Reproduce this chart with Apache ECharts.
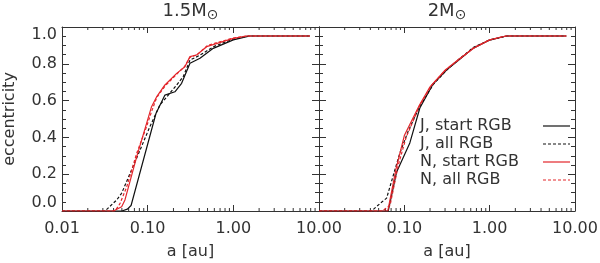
<!DOCTYPE html>
<html><head><meta charset="utf-8">
<script src="https://cdn.jsdelivr.net/npm/echarts@6/dist/echarts.min.js"></script>
<style>html,body{margin:0;padding:0;background:#fff}#c{width:600px;height:263px}</style>
</head><body><div id="c"></div>
<script>
// ---- data ----
const panelTitles = ['1.5M', '2M'];
const sunSymbol = '\u2299';
const xName = 'a [au]';
const yName = 'eccentricity';
const seriesNames = ['J, start RGB', 'J, all RGB', 'N, start RGB', 'N, all RGB'];
const xMinorTicks = [0.02,0.03,0.04,0.05,0.06,0.07,0.08,0.09,0.2,0.3,0.4,0.5,0.6,0.7,0.8,0.9,2,3,4,5,6,7,8,9];

// 1.5 Msun panel
const a15_Jstart = [0.01, 0.05, 0.058, 0.064, 0.125, 0.159, 0.208, 0.249, 0.312, 0.408, 0.583, 1.0, 1.56, 7.8];
const e15_Jstart = [0, 0, 0.01, 0.03, 0.53, 0.63, 0.648, 0.694, 0.803, 0.83, 0.884, 0.93, 0.951, 0.951];
const a15_Jall = [0.01, 0.0318, 0.0435, 0.0496, 0.0813, 0.106, 0.139, 0.174, 0.218, 0.26, 0.312, 0.4, 0.6, 1.0, 1.5, 7.8];
const e15_Jall = [0, 0, 0.06, 0.096, 0.33, 0.458, 0.576, 0.63, 0.685, 0.73, 0.82, 0.845, 0.895, 0.935, 0.951, 0.951];
const a15_Nstart = [0.01, 0.0398, 0.0497, 0.0543, 0.075, 0.111, 0.127, 0.159, 0.218, 0.272, 0.312, 0.372, 0.488, 1.0, 1.43, 7.8];
const e15_Nstart = [0, 0, 0.023, 0.06, 0.3, 0.567, 0.62, 0.685, 0.748, 0.784, 0.839, 0.848, 0.893, 0.938, 0.951, 0.951];
const a15_Nall = [0.01, 0.0416, 0.0475, 0.0568, 0.0744, 0.097, 0.111, 0.127, 0.16, 0.22, 0.27, 0.31, 0.38, 0.5, 0.7, 1.0, 1.45, 7.8];
const e15_Nall = [0, 0, 0.04, 0.13, 0.313, 0.458, 0.54, 0.615, 0.68, 0.745, 0.785, 0.835, 0.85, 0.9, 0.92, 0.94, 0.951, 0.951];

// 2 Msun panel
const a2_Jstart = [0.01, 0.0647, 0.081, 0.116, 0.152, 0.217, 0.312, 0.446, 0.638, 1.0, 1.57, 7.9];
const e2_Jstart = [0, 0, 0.21, 0.37, 0.56, 0.69, 0.766, 0.825, 0.884, 0.929, 0.951, 0.951];
const a2_Jall = [0.01, 0.0413, 0.0517, 0.062, 0.0886, 0.11, 0.15, 0.22, 0.32, 0.45, 0.65, 1.0, 1.6, 7.9];
const e2_Jall = [0, 0, 0.04, 0.07, 0.315, 0.43, 0.565, 0.69, 0.77, 0.83, 0.89, 0.93, 0.951, 0.951];
const a2_Nstart = [0.01, 0.064, 0.08, 0.1, 0.15, 0.2, 0.3, 0.45, 0.65, 1.0, 1.55, 7.9];
const e2_Nstart = [0, 0, 0.23, 0.41, 0.575, 0.675, 0.765, 0.83, 0.885, 0.93, 0.951, 0.951];
const a2_Nall = [0.01, 0.055, 0.063, 0.068, 0.085, 0.105, 0.15, 0.21, 0.31, 0.46, 0.66, 1.0, 1.55, 7.9];
const e2_Nall = [0, 0, 0.02, 0.03, 0.25, 0.4, 0.57, 0.685, 0.77, 0.83, 0.89, 0.93, 0.951, 0.951];

// ---- chart ----
const FONT = 'DejaVu Sans';
const TXT = '#333';
const AX = '#333';
const BLACK = '#111';
const RED = '#e3262b';
const zip = (a, e) => a.map((v, i) => [v, e[i]]);
const fmtX = v => Number(v).toFixed(2);

const panels = [
  [[a15_Jstart, e15_Jstart], [a15_Jall, e15_Jall], [a15_Nstart, e15_Nstart], [a15_Nall, e15_Nall]],
  [[a2_Jstart, e2_Jstart], [a2_Jall, e2_Jall], [a2_Nstart, e2_Nstart], [a2_Nall, e2_Nall]]
];
const styles = [
  {color: BLACK, type: 'solid'},
  {color: BLACK, type: [3, 2]},
  {color: RED, type: 'solid'},
  {color: RED, type: [3, 2]}
];

const grids = [
  {left: 62, top: 27, width: 257, height: 184, containLabel: false, outerBoundsMode: 'none'},
  {left: 319, top: 27, width: 256, height: 184, containLabel: false, outerBoundsMode: 'none'}
];

const xAxes = [], yAxes = [], series = [];
grids.forEach((g, gi) => {
  const bx = xAxes.length;
  xAxes.push({
    type: 'log', logBase: 10, min: 0.01, max: 10, gridIndex: gi, position: 'bottom',
    axisLine: {show: true, onZero: false, lineStyle: {color: AX, width: 1}},
    axisTick: {show: true, inside: true, length: 6, lineStyle: {color: AX}},
    splitLine: {show: false},
    axisLabel: {show: true, margin: 10, formatter: fmtX, fontFamily: FONT, fontSize: 16, color: TXT,
      showMinLabel: gi === 0, showMaxLabel: true},
    name: xName, nameLocation: 'middle', nameGap: 33,
    nameTextStyle: {fontFamily: FONT, fontSize: 16, color: TXT}
  });
  xAxes.push({
    type: 'log', logBase: 10, min: 0.01, max: 10, gridIndex: gi, position: 'top',
    axisLine: {show: true, onZero: false, lineStyle: {color: AX, width: 1}},
    axisTick: {show: true, inside: true, length: 6, lineStyle: {color: AX}},
    splitLine: {show: false},
    axisLabel: {show: false},
    name: panelTitles[gi] + '{s|' + sunSymbol + '}', nameLocation: 'middle', nameGap: 5,
    nameTextStyle: {fontFamily: FONT, fontSize: 18, color: TXT,
      rich: {s: {fontFamily: FONT, fontSize: 14, color: TXT, padding: [7, 0, 0, 0]}}}
  });
  const by = yAxes.length;
  yAxes.push({
    type: 'value', min: 0, max: 1, interval: 0.2, gridIndex: gi, position: 'left',
    axisLine: {show: true, onZero: false, lineStyle: {color: AX, width: 1}},
    axisTick: {show: true, inside: true, length: 7, lineStyle: {color: AX}},
    minorTick: {show: true, splitNumber: 4, length: 4, lineStyle: {color: AX}},
    splitLine: {show: false}, minorSplitLine: {show: false},
    axisLabel: {show: gi === 0, margin: 5, formatter: v => v.toFixed(1), fontFamily: FONT, fontSize: 16, color: TXT,
      verticalAlignMaxLabel: 'top', verticalAlignMinLabel: 'bottom'},
    name: gi === 0 ? yName : '', nameLocation: 'middle', nameGap: 44, nameRotate: 90,
    nameTextStyle: {fontFamily: FONT, fontSize: 16, color: TXT}
  });
  yAxes.push({
    type: 'value', min: 0, max: 1, interval: 0.2, gridIndex: gi, position: 'right',
    axisLine: {show: true, onZero: false, lineStyle: {color: AX, width: 1}},
    axisTick: {show: true, inside: true, length: 7, lineStyle: {color: AX}},
    minorTick: {show: true, splitNumber: 4, length: 4, lineStyle: {color: AX}},
    splitLine: {show: false}, minorSplitLine: {show: false},
    axisLabel: {show: false}
  });
  panels[gi].forEach((p, si) => {
    series.push({
      type: 'line', name: seriesNames[si], xAxisIndex: bx, yAxisIndex: by,
      data: zip(p[0], p[1]), symbol: 'none', showSymbol: false, animation: false,
      color: styles[si].color,
      lineStyle: {color: styles[si].color, width: 1.2, type: styles[si].type},
      z: 3 + (si >= 2 ? 1 : 0)
    });
  });
  series.push({
    type: 'custom', xAxisIndex: bx, yAxisIndex: by, silent: true, animation: false, clip: false,
    data: xMinorTicks.map(v => [v, 0]),
    renderItem: (params, api) => {
      const v = api.value(0);
      const pb = api.coord([v, 0]);
      const pt = api.coord([v, 1]);
      const st = {stroke: AX, lineWidth: 1};
      return {type: 'group', children: [
        {type: 'line', shape: {x1: pb[0], y1: pb[1], x2: pb[0], y2: pb[1] - 3}, style: st},
        {type: 'line', shape: {x1: pt[0], y1: pt[1], x2: pt[0], y2: pt[1] + 3}, style: st}
      ]};
    }
  });
});

const chart = echarts.init(document.getElementById('c'), null, {renderer: 'canvas'});
chart.setOption({
  animation: false,
  backgroundColor: '#fff',
  grid: grids,
  xAxis: xAxes,
  yAxis: yAxes,
  legend: {
    data: seriesNames, orient: 'vertical', left: 415, top: 113, align: 'right',
    itemWidth: 27, itemHeight: 14, itemGap: 2, selectedMode: false,
    itemStyle: {opacity: 0, borderWidth: 0},
    lineStyle: {width: 1.2},
    formatter: n => '{t|' + n + '}',
    textStyle: {fontFamily: FONT, fontSize: 16, color: TXT,
      rich: {t: {width: 118, lineHeight: 18, align: 'left', fontFamily: FONT, fontSize: 16, color: TXT}}}
  },
  series: series
});
</script></body></html>
